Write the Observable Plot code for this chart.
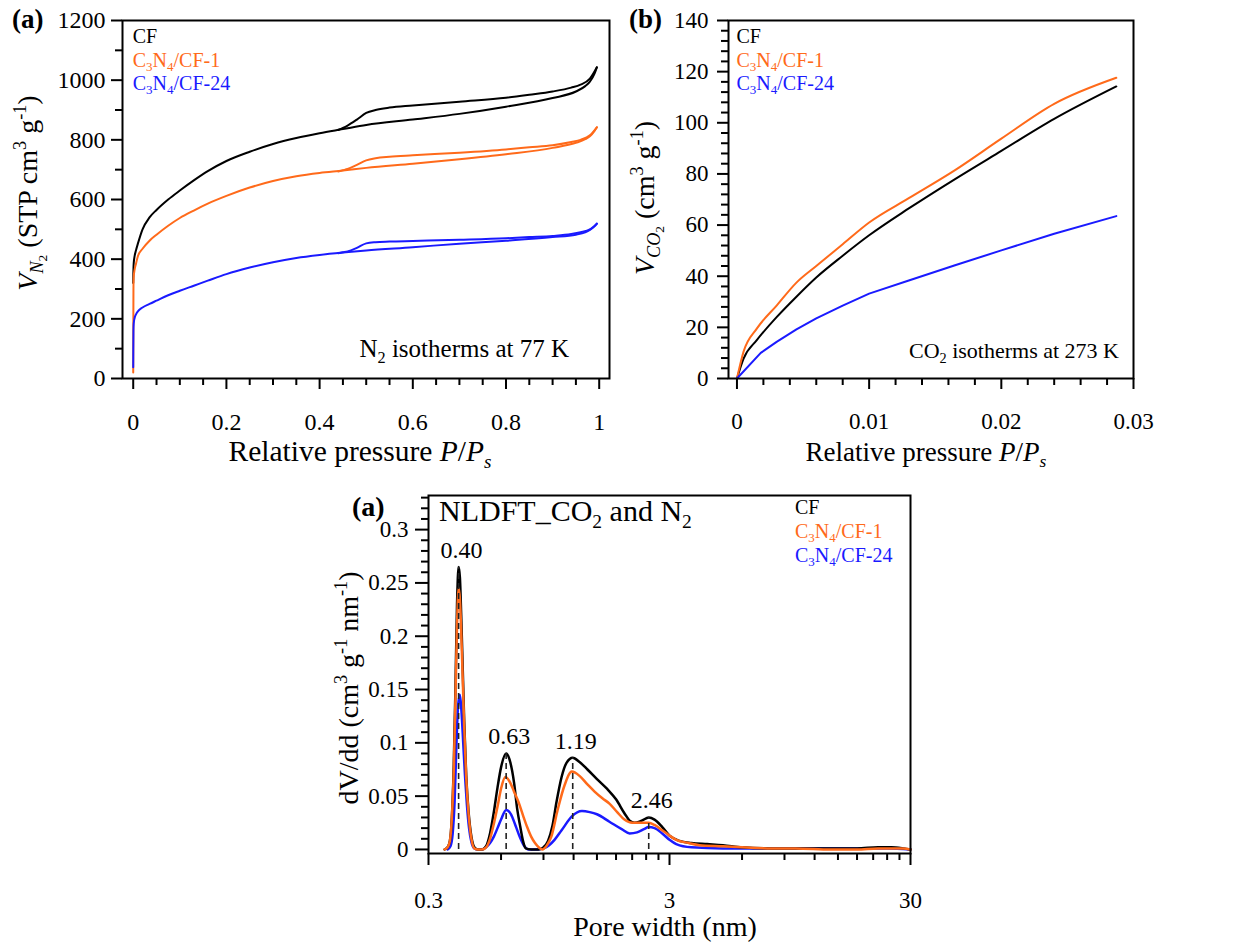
<!DOCTYPE html>
<html>
<head>
<meta charset="utf-8">
<script src="https://cdn.jsdelivr.net/npm/d3@7"></script>
<script src="https://cdn.jsdelivr.net/npm/@observablehq/plot@0.6"></script>
<style>
  body { margin: 0; background: #fff; }
  #fig { position: relative; width: 1244px; height: 944px; overflow: hidden; background: #fff; }
  #fig svg { position: absolute; overflow: visible; }
  #fig svg text { font-family: "Liberation Serif", "Times New Roman", serif; }
</style>
</head>
<body>
<div id="fig"></div>
<script>
const FONT = '"Liberation Serif", "Times New Roman", serif';
const BLACK = "#000000", ORANGE = "#ff6a1a", BLUE = "#1a1aff";

// ---- N2 isotherms at 77 K (relative pressure, cm3/g STP) ----
const n2AdsP    = [0, 0.0002, 0.0005, 0.001, 0.003, 0.006, 0.01, 0.02, 0.035, 0.05, 0.075, 0.1, 0.13, 0.16, 0.2, 0.25, 0.3, 0.35, 0.4, 0.45, 0.5, 0.6, 0.7, 0.8, 0.9, 0.95, 0.97, 0.98, 0.99, 0.995];
const n2AdsCF   = [320, 345, 365, 385, 410, 430, 452, 500, 540, 565, 600, 630, 664, 695, 729, 760, 786, 806, 822, 836, 850, 868, 887, 911, 940, 962, 980, 995, 1022, 1043];
const n2AdsCF1  = [20, 150, 300, 340, 365, 385, 410, 435, 462, 482, 512, 538, 563, 586, 612, 640, 662, 678, 689, 697, 706, 720, 735, 752, 773, 790, 802, 812, 830, 842];
const n2AdsCF24 = [38, 100, 160, 183, 203, 215, 225, 238, 250, 261, 279, 294, 311, 328, 350, 372, 390, 404, 414, 422, 429, 440, 452, 462, 474, 482, 490, 498, 510, 519];
const n2DesP    = [0.44, 0.45, 0.46, 0.48, 0.5, 0.52, 0.55, 0.6, 0.7, 0.8, 0.85, 0.9, 0.94, 0.96, 0.98, 0.995];
const n2DesCF   = [833, 840, 848, 868, 890, 900, 908, 915, 928, 941, 951, 962, 975, 985, 1005, 1043];
const n2DesCF1  = [694, 698, 702, 716, 731, 738, 743, 748, 757, 768, 775, 782, 793, 800, 815, 842];
const n2DesCF24 = [420, 423, 426, 438, 453, 457, 459, 461, 465, 470, 474, 478, 484, 490, 500, 519];

// ---- CO2 isotherms at 273 K (relative pressure, cm3/g) ----
const co2P      = [0, 0.0005, 0.0015, 0.003, 0.0045, 0.006, 0.008, 0.01, 0.013, 0.0165, 0.02, 0.024, 0.0287];
const co2CF     = [0, 7.8, 15, 24, 32, 39.5, 48, 56, 66.5, 78, 89, 101.5, 114.2];
const co2CF1    = [0, 10.5, 19.5, 28.5, 37.5, 44, 52.5, 61, 70.5, 81.5, 93.8, 107.4, 117.6];
const co2P24    = [0, 0.0018, 0.003, 0.0045, 0.006, 0.008, 0.01, 0.013, 0.0165, 0.02, 0.024, 0.0287];
const co2CF24   = [0, 10, 14.3, 19.2, 23.5, 28.5, 33.2, 38.3, 44.3, 50.1, 56.6, 63.5];

// ---- NLDFT pore size distributions (pore width nm, dV/dd) ----
const psdW_CF   = [0.35, 0.36, 0.368, 0.375, 0.382, 0.388, 0.394, 0.40, 0.405, 0.41, 0.416, 0.422, 0.43, 0.44, 0.452, 0.465, 0.48, 0.5, 0.52, 0.54, 0.56, 0.58, 0.6, 0.63, 0.655, 0.68, 0.70, 0.72, 0.74, 0.76, 0.8, 0.86, 0.9, 0.94, 0.98, 1.02, 1.07, 1.12, 1.19, 1.27, 1.37, 1.5, 1.65, 1.8, 1.95, 2.05, 2.15, 2.3, 2.46, 2.6, 2.8, 3.0, 3.3, 3.7, 4.3, 5.0, 6.0, 8.0, 12, 18, 22, 25, 28, 30];
const psdV_CF   = [0, 0.002, 0.008, 0.03, 0.08, 0.15, 0.23, 0.265, 0.255, 0.22, 0.17, 0.12, 0.07, 0.035, 0.012, 0.002, 0, 0, 0.003, 0.015, 0.035, 0.058, 0.077, 0.09, 0.082, 0.062, 0.038, 0.022, 0.008, 0.001, 0, 0, 0.002, 0.008, 0.022, 0.045, 0.068, 0.081, 0.086, 0.082, 0.075, 0.066, 0.057, 0.047, 0.034, 0.027, 0.025, 0.027, 0.03, 0.028, 0.021, 0.013, 0.008, 0.006, 0.005, 0.004, 0.002, 0.001, 0.001, 0.001, 0.002, 0.002, 0.001, 0];
const psdW_CF1  = [0.35, 0.36, 0.368, 0.375, 0.382, 0.388, 0.394, 0.40, 0.405, 0.41, 0.416, 0.422, 0.43, 0.44, 0.452, 0.465, 0.48, 0.5, 0.52, 0.54, 0.56, 0.58, 0.6, 0.625, 0.65, 0.68, 0.71, 0.74, 0.77, 0.8, 0.83, 0.86, 0.89, 0.93, 0.97, 1.03, 1.1, 1.18, 1.27, 1.37, 1.47, 1.58, 1.69, 1.82, 1.95, 2.1, 2.3, 2.46, 2.6, 2.8, 3.0, 3.2, 3.6, 4.0, 5.0, 6.0, 8.0, 10, 14, 18, 22, 25, 28, 30];
const psdV_CF1  = [0, 0.002, 0.008, 0.03, 0.075, 0.14, 0.21, 0.245, 0.235, 0.205, 0.16, 0.115, 0.068, 0.033, 0.01, 0.001, 0, 0, 0.002, 0.01, 0.024, 0.04, 0.057, 0.068, 0.064, 0.054, 0.044, 0.032, 0.021, 0.012, 0.006, 0.002, 0, 0.004, 0.012, 0.037, 0.06, 0.073, 0.069, 0.061, 0.054, 0.048, 0.043, 0.035, 0.028, 0.025, 0.025, 0.025, 0.023, 0.018, 0.013, 0.009, 0.006, 0.004, 0.003, 0.002, 0.001, 0.001, 0, 0, 0.001, 0.001, 0.001, 0];
const psdW_CF24 = [0.36, 0.37, 0.378, 0.385, 0.392, 0.398, 0.405, 0.411, 0.418, 0.425, 0.433, 0.442, 0.452, 0.465, 0.48, 0.5, 0.52, 0.54, 0.56, 0.58, 0.6, 0.63, 0.66, 0.69, 0.72, 0.75, 0.78, 0.85, 0.9, 0.95, 1.0, 1.07, 1.18, 1.3, 1.4, 1.5, 1.69, 1.9, 2.05, 2.2, 2.35, 2.46, 2.6, 2.8, 3.0, 3.2, 3.7, 5.0, 8, 12, 18, 24, 30];
const psdV_CF24 = [0, 0.003, 0.015, 0.045, 0.1, 0.135, 0.145, 0.13, 0.1, 0.07, 0.042, 0.02, 0.007, 0.001, 0, 0, 0.002, 0.006, 0.012, 0.02, 0.028, 0.037, 0.033, 0.022, 0.011, 0.003, 0, 0, 0.001, 0.004, 0.009, 0.018, 0.031, 0.036, 0.035, 0.033, 0.026, 0.019, 0.015, 0.016, 0.019, 0.021, 0.02, 0.015, 0.009, 0.005, 0.002, 0.001, 0.001, 0.001, 0.001, 0.001, 0];

// Characteristic pore widths (nm) and the CF peak heights they mark
const peakWidths  = [0.40, 0.63, 1.19, 2.46];
const peakHeights = [0.265, 0.09, 0.086, 0.03];

// ---- Axis ticks ----
const aXTicks = [0, 0.2, 0.4, 0.6, 0.8, 1];
const aXMinor = [0.05, 0.1, 0.15, 0.25, 0.3, 0.35, 0.45, 0.5, 0.55, 0.65, 0.7, 0.75, 0.85, 0.9, 0.95];
const aYTicks = [0, 200, 400, 600, 800, 1000, 1200];
const aYMinor = [100, 300, 500, 700, 900, 1100];
const bXTicks = [0, 0.01, 0.02, 0.03];
const bXMinor = [0.002, 0.004, 0.006, 0.008, 0.012, 0.014, 0.016, 0.018, 0.022, 0.024, 0.026, 0.028];
const bYTicks = [0, 20, 40, 60, 80, 100, 120, 140];
const bYMinor = d3.range(4, 140, 4).filter(v => v % 20 !== 0);
const cXTicks = [0.3, 3, 30];
const cXMinor = [0.6, 0.9, 1.2, 1.5, 1.8, 2.1, 2.4, 2.7, 6, 9, 12, 15, 18, 21, 24, 27];
const cYTicks = [0, 0.05, 0.1, 0.15, 0.2, 0.25, 0.3];
const cYMinor = d3.range(1, 34).filter(i => i % 5 !== 0).map(i => i / 100);

// Sample names with chemical subscripts
const sampleNames = [
  [["CF"]],
  [["C"], ["3", "sub"], ["N"], ["4", "sub"], ["/CF-1"]],
  [["C"], ["3", "sub"], ["N"], ["4", "sub"], ["/CF-24"]]
];
const sampleColors = [BLACK, ORANGE, BLUE];

const pts = (xs, ys) => xs.map((x, i) => ({x, y: ys[i]}));
const fig = document.getElementById("fig");

function axes({xMajor, xMinor, yMajor, yMinor, xSize = 11, ySize = 11, xPad = 23, yPad = 7, fontSize = 23}) {
  const common = {strokeWidth: 2, label: null, fontSize};
  return [
    Plot.axisX(xMinor, {...common, tickSize: 7, tickFormat: () => ""}),
    Plot.axisY(yMinor, {...common, tickSize: 7, tickFormat: () => ""}),
    Plot.axisX(xMajor, {...common, tickSize: xSize, tickPadding: xPad, tickFormat: d => String(d)}),
    Plot.axisY(yMajor, {...common, tickSize: ySize, tickPadding: yPad, tickFormat: d => String(d)})
  ];
}

// Text with sub/superscripts, appended into a plot's SVG
function rich(svg, {x, y, size, parts, anchor = "start", weight = "normal", fill = BLACK, rotate = 0}) {
  const t = d3.select(svg).append("text")
    .attr("transform", `translate(${x},${y})` + (rotate ? ` rotate(${rotate})` : ""))
    .attr("text-anchor", anchor)
    .attr("font-size", size)
    .attr("font-weight", weight)
    .attr("fill", fill)
    .style("font-family", FONT)
    .style("white-space", "pre");
  let shift = 0;
  for (const [str, kind = ""] of parts) {
    let fs = size, off = 0;
    const italic = kind.startsWith("i");
    const k = italic ? kind.slice(1) : kind;
    if (k === "sub") { fs = size * 0.65; off = size * 0.22; }
    else if (k === "sup") { fs = size * 0.65; off = -size * 0.38; }
    else if (k === "sub2") { fs = size * 0.48; off = size * 0.36; }
    t.append("tspan")
      .attr("font-size", fs)
      .attr("dy", off - shift)
      .attr("font-style", italic ? "italic" : null)
      .text(str);
    shift = off;
  }
  return t;
}

function place(svg, left, top) {
  svg.style.left = left + "px";
  svg.style.top = top + "px";
  fig.append(svg);
}

const baseStyle = {fontFamily: FONT, fontSize: "23px", color: "#000", background: "transparent", overflow: "visible"};
const lineOpts = (stroke, w = 2) => ({x: "x", y: "y", stroke, strokeWidth: w, curve: "monotone-x"});

// ================= Panel (a): N2 isotherms =================
const plotA = Plot.plot({
  width: 620, height: 470,
  marginLeft: 122, marginRight: 11, marginTop: 20, marginBottom: 92,
  style: baseStyle,
  x: {domain: [-0.023, 1.0221]},
  y: {domain: [0, 1200]},
  marks: [
    Plot.line(pts(n2AdsP, n2AdsCF), lineOpts(BLACK)),
    Plot.line(pts(n2DesP, n2DesCF), lineOpts(BLACK)),
    Plot.line(pts(n2AdsP, n2AdsCF1), lineOpts(ORANGE)),
    Plot.line(pts(n2DesP, n2DesCF1), lineOpts(ORANGE)),
    Plot.line(pts(n2AdsP, n2AdsCF24), lineOpts(BLUE)),
    Plot.line(pts(n2DesP, n2DesCF24), lineOpts(BLUE)),
    Plot.frame({strokeWidth: 2}),
    ...axes({xMajor: aXTicks, xMinor: aXMinor, yMajor: aYTicks, yMinor: aYMinor, fontSize: 24, yPad: 6})
  ]
});
place(plotA, 0, 0);
{
  const x0 = plotA.scale("x").apply(0);
  rich(plotA, {x: 12, y: 28, size: 27, weight: "bold", parts: [["(a)"]]});
  sampleNames.forEach((p, i) => rich(plotA, {x: x0, y: 43 + i * 23.5, size: 20, fill: sampleColors[i], parts: p}));
  rich(plotA, {x: 569, y: 357, size: 25, anchor: "end", parts: [["N"], ["2", "sub"], [" isotherms at 77 K"]]});
  rich(plotA, {x: 37, y: 193, size: 28, anchor: "middle", rotate: -90,
    parts: [["V", "i"], ["N", "isub"], ["2", "sub2"], [" (STP cm"], ["3", "sup"], [" g"], ["-1", "sup"], [")"]]});
  rich(plotA, {x: 360, y: 461, size: 29.5, anchor: "middle",
    parts: [["Relative pressure "], ["P", "i"], ["/"], ["P", "i"], ["s", "isub"]]});
}

// ================= Panel (b): CO2 isotherms =================
const plotB = Plot.plot({
  width: 624, height: 470,
  marginLeft: 108, marginRight: 111, marginTop: 20, marginBottom: 92,
  style: baseStyle,
  x: {domain: [-0.00064, 0.03]},
  y: {domain: [0, 140]},
  marks: [
    Plot.line(pts(co2P, co2CF), lineOpts(BLACK)),
    Plot.line(pts(co2P, co2CF1), lineOpts(ORANGE)),
    Plot.line(pts(co2P24, co2CF24), {...lineOpts(BLUE), curve: "linear"}),
    Plot.frame({strokeWidth: 2}),
    ...axes({xMajor: bXTicks, xMinor: bXMinor, yMajor: bYTicks, yMinor: bYMinor, yPad: 9})
  ]
});
place(plotB, 620, 0);
{
  const x0 = plotB.scale("x").apply(0);
  rich(plotB, {x: 9, y: 28, size: 27, weight: "bold", parts: [["(b)"]]});
  sampleNames.forEach((p, i) => rich(plotB, {x: x0, y: 43 + i * 23.5, size: 20, fill: sampleColors[i], parts: p}));
  rich(plotB, {x: 499, y: 358, size: 22, anchor: "end", parts: [["CO"], ["2", "sub"], [" isotherms at 273 K"]]});
  rich(plotB, {x: 34, y: 198, size: 28, anchor: "middle", rotate: -90,
    parts: [["V", "i"], ["CO", "isub"], ["2", "sub2"], [" (cm"], ["3", "sup"], [" g"], ["-1", "sup"], [")"]]});
  rich(plotB, {x: 306, y: 461, size: 27, anchor: "middle",
    parts: [["Relative pressure "], ["P", "i"], ["/"], ["P", "i"], ["s", "isub"]]});
}

// ================= Bottom panel: NLDFT pore size distribution =================
const plotC = Plot.plot({
  width: 600, height: 474,
  marginLeft: 98, marginRight: 20, marginTop: 25, marginBottom: 91,
  style: baseStyle,
  x: {type: "log", domain: [0.3, 30]},
  y: {domain: [-0.0038, 0.332]},
  marks: [
    Plot.line(pts(psdW_CF24, psdV_CF24), lineOpts(BLUE, 2.5)),
    Plot.line(pts(psdW_CF, psdV_CF), lineOpts(BLACK, 2.5)),
    Plot.line(pts(psdW_CF1, psdV_CF1), lineOpts(ORANGE, 2.5)),
    Plot.ruleX(peakWidths, {x: d => d, y1: 0, y2: (d, i) => peakHeights[i], stroke: "#222", strokeWidth: 1.6, strokeDasharray: "6,4"}),
    Plot.text(peakWidths, {x: d => d, y: (d, i) => peakHeights[i], text: d => d.toFixed(2), fontSize: 24, lineAnchor: "bottom", dx: 3, dy: -9, fill: "#000"}),
    Plot.frame({strokeWidth: 2}),
    ...axes({xMajor: cXTicks, xMinor: cXMinor, yMajor: cYTicks, yMinor: cYMinor, xSize: 12, ySize: 13, xPad: 26, yPad: 7})
  ]
});
place(plotC, 330, 470);
{
  rich(plotC, {x: 22, y: 46, size: 28, weight: "bold", parts: [["(a)"]]});
  rich(plotC, {x: 109, y: 51, size: 30, parts: [["NLDFT_CO"], ["2", "sub"], [" and N"], ["2", "sub"]]});
  sampleNames.forEach((p, i) => rich(plotC, {x: 465, y: 44 + i * 24, size: 20, fill: sampleColors[i], parts: p}));
  rich(plotC, {x: 28, y: 218, size: 28, anchor: "middle", rotate: -90,
    parts: [["dV/dd (cm"], ["3", "sup"], [" g"], ["-1", "sup"], [" nm"], ["-1", "sup"], [")"]]});
  rich(plotC, {x: 335, y: 466, size: 28, anchor: "middle", parts: [["Pore width (nm)"]]});
}
</script>
</body>
</html>
